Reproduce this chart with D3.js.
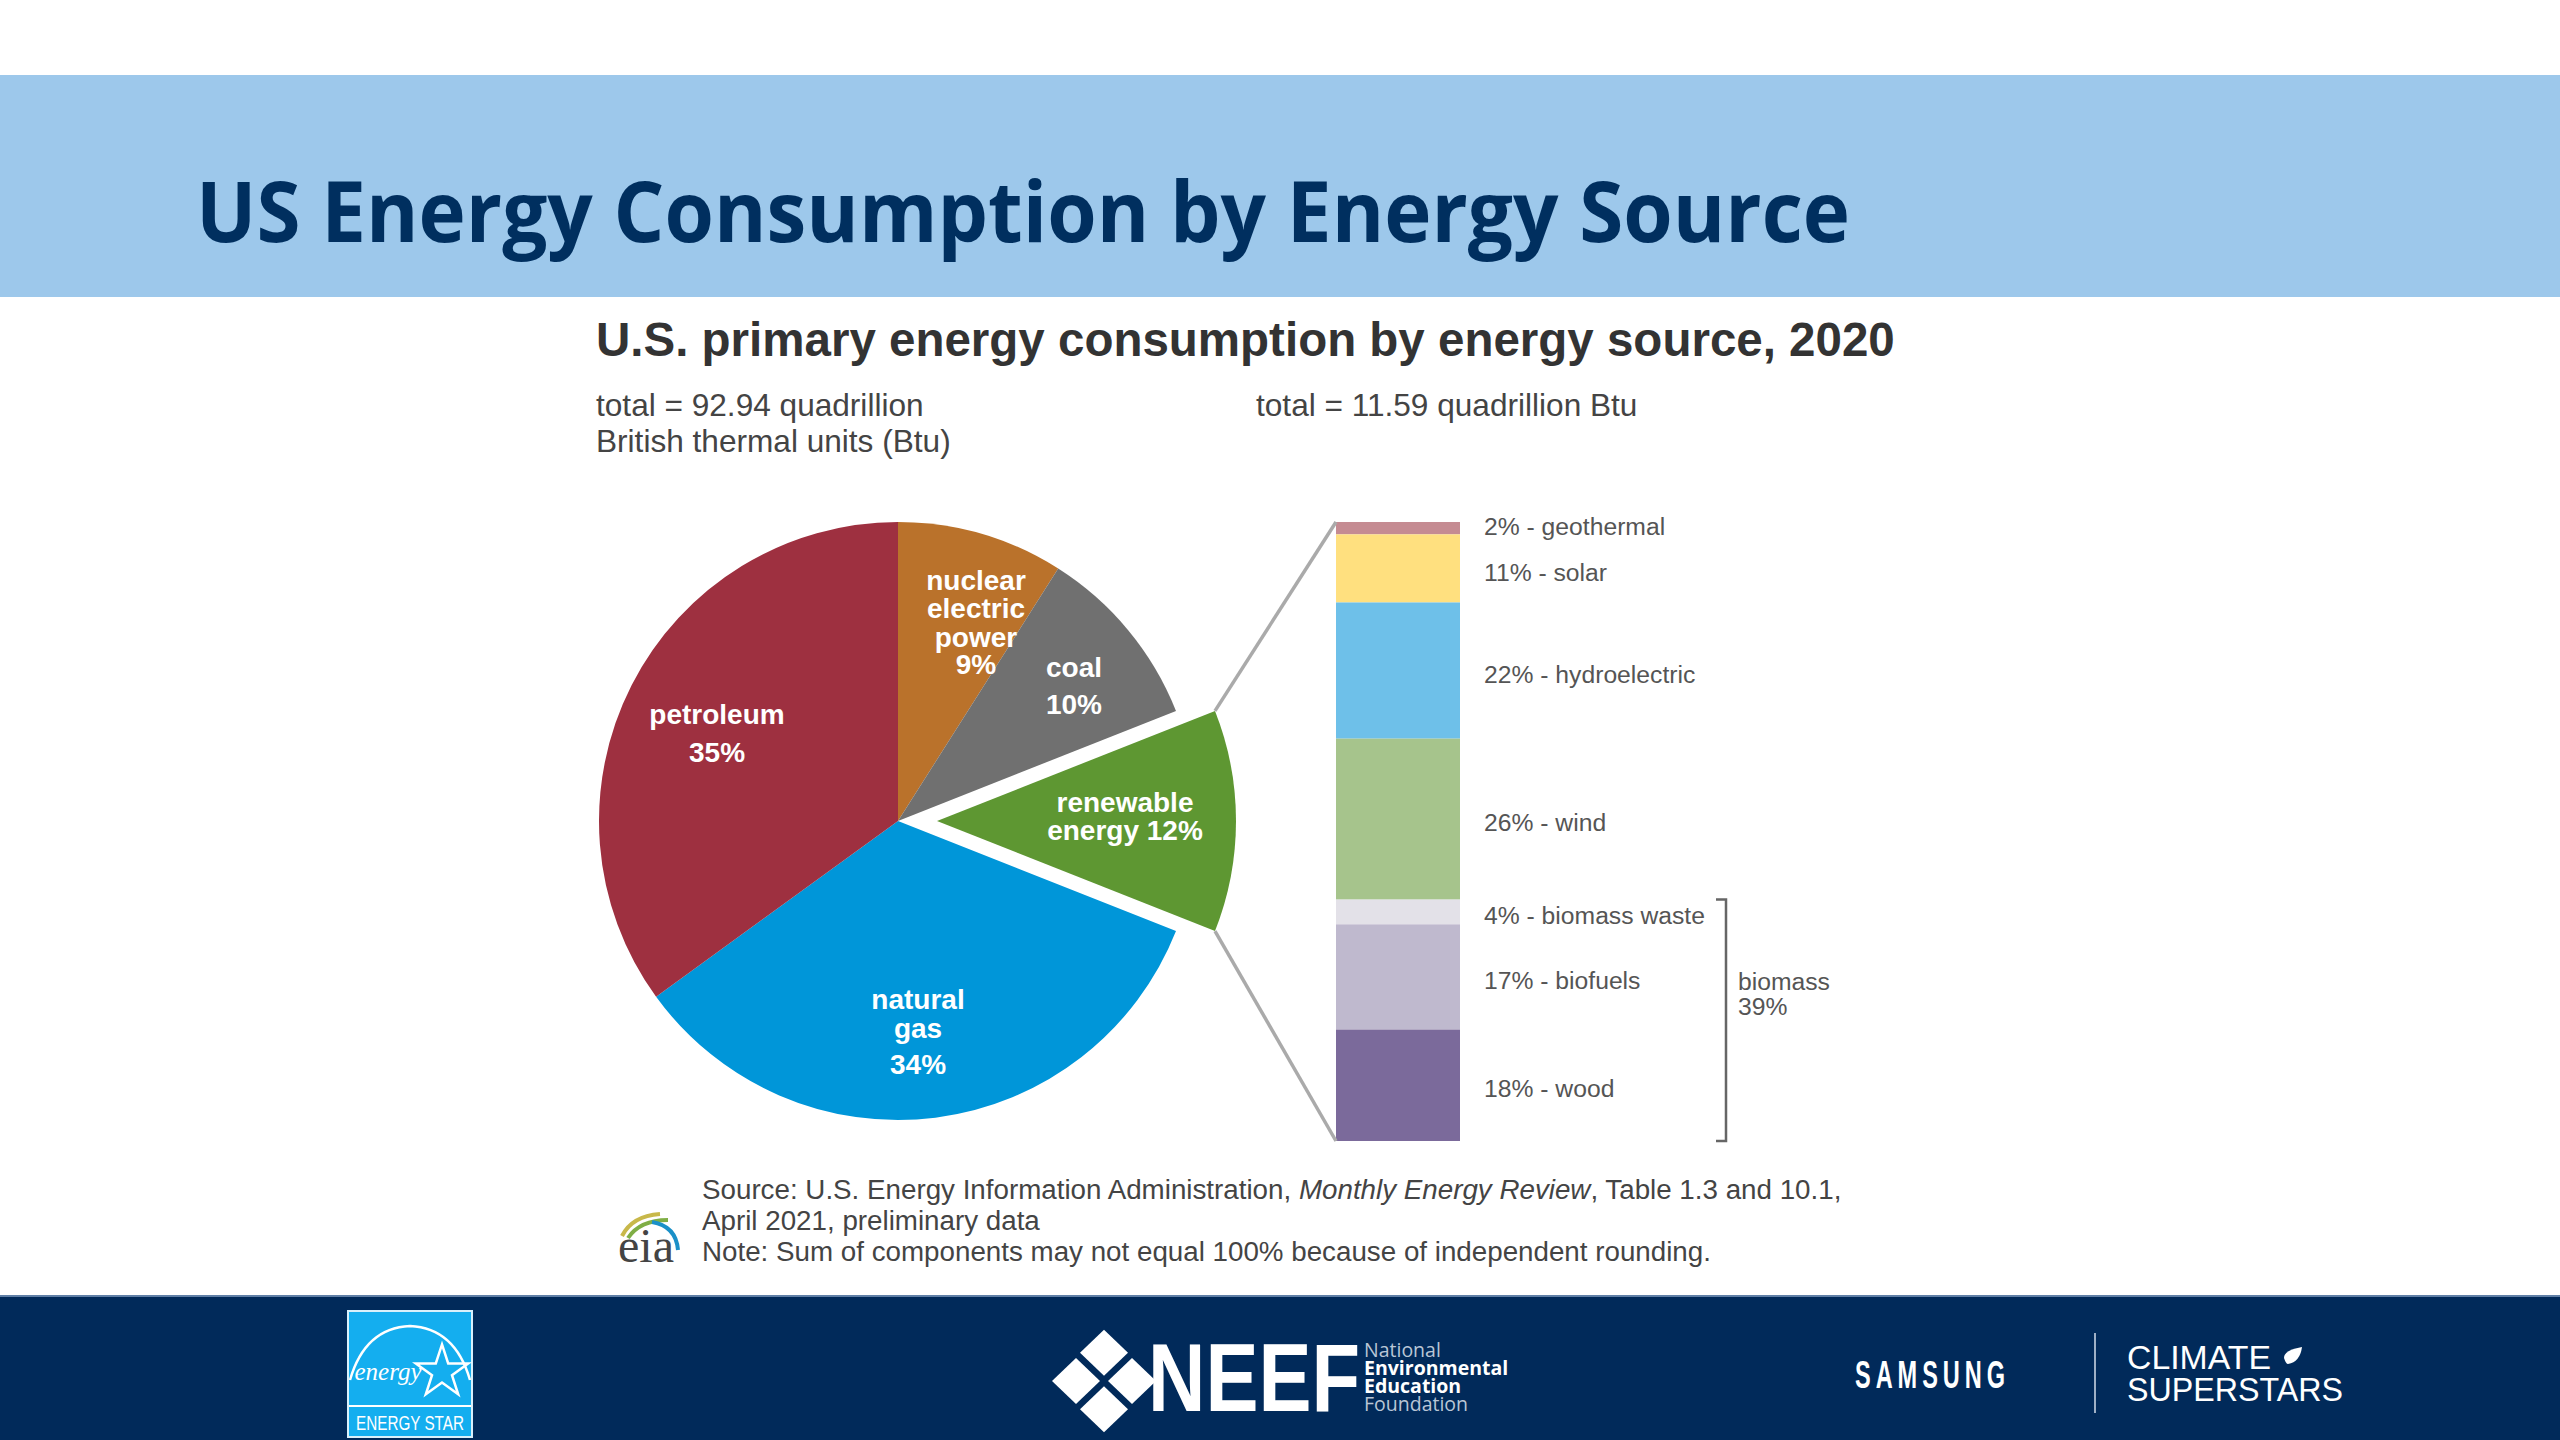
<!DOCTYPE html>
<html lang="en">
  <head>
    <meta charset="utf-8" />
    <title>US Energy Consumption by Energy Source</title>
    <script src="https://cdn.jsdelivr.net/npm/d3@7/dist/d3.min.js"></script>
    <style>
      html, body { margin: 0; padding: 0; background: #fff; }
      svg { display: block; }
      text { font-family: "Liberation Sans", Arial, sans-serif; }
    </style>
  </head>
  <body>
    <div id="container"></div>

    <script type="module">
      // pie, clockwise from 12 o'clock
      const sources = ["nuclear", "coal", "renewable", "natural gas", "petroleum"];
      const shares = [9, 10, 12, 34, 35];
      const sourceColors = ["#ba722b", "#707070", "#5e9732", "#0096d9", "#9e3040"];
      const sourceLabels = [
        ["nuclear", "electric", "power", "9%"],
        ["coal", "10%"],
        ["renewable", "energy 12%"],
        ["natural", "gas", "34%"],
        ["petroleum", "35%"],
      ];

      // renewable breakdown, top to bottom
      const renewables = ["geothermal", "solar", "hydroelectric", "wind", "biomass waste", "biofuels", "wood"];
      const renewableShares = [2, 11, 22, 26, 4, 17, 18];
      const renewableColors = ["#c58b92", "#ffe07f", "#6ec0e9", "#a6c48c", "#e3e1e8", "#bfb9ce", "#7b6a9b"];

      const width = 2560;
      const height = 1440;
      const svg = d3.select("#container").append("svg").attr("width", width).attr("height", height);

      // slide furniture
      svg.append("rect").attr("y", 75).attr("width", width).attr("height", 222).attr("fill", "#9dc8eb");
      svg.append("text").attr("x", 196).attr("y", 242)
        .attr("font-size", 85).attr("font-weight", 700).attr("fill", "#002f5f")
        .style("font-family", "'Open Sans'")
        .attr("textLength", 1654).attr("lengthAdjust", "spacingAndGlyphs")
        .text("US Energy Consumption by Energy Source");

      svg.append("text").attr("x", 596).attr("y", 356)
        .attr("font-size", 47.5).attr("font-weight", 700).attr("fill", "#333")
        .text("U.S. primary energy consumption by energy source, 2020");

      const subs = [
        ["total = 92.94 quadrillion", 596, 416],
        ["British thermal units (Btu)", 596, 452],
        ["total = 11.59 quadrillion Btu", 1256, 416],
      ];
      svg.selectAll(".sub").data(subs).enter().append("text").attr("class", "sub")
        .attr("x", (d) => d[1]).attr("y", (d) => d[2])
        .attr("font-size", 31.6).attr("fill", "#444").text((d) => d[0]);

      // pie
      const cx = 898;
      const cy = 821;
      const radius = 299;
      const explode = 39;
      const arcs = d3.pie().sort(null).value((d) => d)(shares);
      const arc = d3.arc().innerRadius(0).outerRadius(radius);
      const explodeIndex = sources.indexOf("renewable");

      const pie = svg.append("g").attr("transform", `translate(${cx},${cy})`);
      pie.selectAll("path").data(arcs).enter().append("path")
        .attr("d", arc)
        .attr("fill", (d, i) => sourceColors[i])
        .attr("transform", (d, i) => (i === explodeIndex ? `translate(${explode},0)` : null));

      // label anchors relative to pie centre: x, first baseline, then line steps
      const labelPos = [
        { x: 78, y: -231, dy: [0, 28, 29, 27] },
        { x: 176, y: -144, dy: [0, 37] },
        { x: 227, y: -9, dy: [0, 28] },
        { x: 20, y: 188, dy: [0, 29, 36] },
        { x: -181, y: -97, dy: [0, 38] },
      ];
      const labels = pie.selectAll(".pie-label").data(sourceLabels).enter().append("g").attr("class", "pie-label");
      labels.each(function (lines, i) {
        const p = labelPos[i];
        d3.select(this).selectAll("text").data(lines).enter().append("text")
          .attr("x", p.x)
          .attr("y", (d, j) => p.y + d3.sum(p.dy.slice(0, j + 1)))
          .attr("text-anchor", "middle").attr("font-size", 28).attr("font-weight", 700).attr("fill", "#fff")
          .text((d) => d);
      });

      // stacked bar of the renewable slice
      const barX = d3.scaleBand().domain(["renewable"]).range([1336, 1460]);
      const barY = d3.scaleLinear().domain([0, d3.sum(renewableShares)]).range([522, 1141]);
      const cumulative = d3.cumsum(renewableShares);
      const bar = svg.append("g");
      bar.selectAll("rect").data(renewableShares).enter().append("rect")
        .attr("x", barX("renewable"))
        .attr("width", barX.bandwidth())
        .attr("y", (d, i) => barY(cumulative[i] - d))
        .attr("height", (d) => barY(d) - barY(0))
        .attr("fill", (d, i) => renewableColors[i]);

      // the thin geothermal label sits a little above its segment centre
      const labelNudge = [7, 13, 12, 12, 12, 12, 12];
      bar.selectAll("text").data(renewableShares).enter().append("text")
        .attr("x", 1484)
        .attr("y", (d, i) => barY(cumulative[i] - d / 2) + labelNudge[i])
        .attr("font-size", 24.7).attr("fill", "#555")
        .text((d, i) => `${d}% - ${renewables[i]}`);

      // leader lines from the slice corners to the bar corners
      const slice = arcs[explodeIndex];
      const corner = (a) => [cx + explode + radius * Math.sin(a), cy - radius * Math.cos(a)];
      const leaders = [
        [corner(slice.startAngle), [1336, barY.range()[0]]],
        [corner(slice.endAngle), [1336, barY.range()[1]]],
      ];
      svg.selectAll(".leader").data(leaders).enter().append("path").attr("class", "leader")
        .attr("d", d3.line()).attr("fill", "none").attr("stroke", "#aaa").attr("stroke-width", 3.5);

      // biomass bracket
      const biomassStart = renewables.indexOf("biomass waste");
      const bTop = barY(cumulative[biomassStart - 1]);
      const bBottom = barY.range()[1];
      svg.append("path")
        .attr("d", `M1716,${bTop}H1726V${bBottom}H1716`)
        .attr("fill", "none").attr("stroke", "#666").attr("stroke-width", 2.5);
      svg.append("text").attr("x", 1738).attr("y", 990).attr("font-size", 24.7).attr("fill", "#555").text("biomass");
      svg.append("text").attr("x", 1738).attr("y", 1015).attr("font-size", 24.7).attr("fill", "#555").text("39%");

      // source note
      const note = svg.append("g").attr("font-size", 27.75).attr("fill", "#444");
      const line1 = note.append("text").attr("x", 702).attr("y", 1199);
      line1.append("tspan").text("Source: U.S. Energy Information Administration, ");
      line1.append("tspan").attr("font-style", "italic").text("Monthly Energy Review");
      line1.append("tspan").text(", Table 1.3 and 10.1,");
      note.append("text").attr("x", 702).attr("y", 1230).text("April 2021, preliminary data");
      note.append("text").attr("x", 702).attr("y", 1261).text("Note: Sum of components may not equal 100% because of independent rounding.");

      // eia logo
      const eia = svg.append("g");
      eia.append("text").attr("x", 646).attr("y", 1262).attr("text-anchor", "middle")
        .attr("font-size", 48).attr("fill", "#444").style("font-family", "'Liberation Serif'").text("eia");
      const swooshes = [
        ["M622,1236Q632,1216 660,1214", "#c8b84a"],
        ["M628,1238Q640,1220 668,1220", "#7fae45"],
        ["M652,1222Q676,1226 678,1250", "#1a90c8"],
      ];
      eia.selectAll("path").data(swooshes).enter().append("path")
        .attr("d", (d) => d[0]).attr("fill", "none").attr("stroke", (d) => d[1]).attr("stroke-width", 4);

      // footer band
      svg.append("rect").attr("y", 1296).attr("width", width).attr("height", 144).attr("fill", "#012a5a");
      svg.append("rect").attr("y", 1295).attr("width", width).attr("height", 2).attr("fill", "#5f7fa6");

      // energy star badge
      const star = svg.append("g");
      star.append("rect").attr("x", 348).attr("y", 1311).attr("width", 124).attr("height", 126)
        .attr("fill", "#14aeef").attr("stroke", "#d8f0fb").attr("stroke-width", 2);
      star.append("path").attr("d", "M350,1380Q365,1328 410,1326Q455,1328 470,1380")
        .attr("fill", "none").attr("stroke", "#fff").attr("stroke-width", 2.5);
      star.append("path").attr("d", d3.symbol(d3.symbolStar, 850)())
        .attr("transform", "translate(442,1372)")
        .attr("fill", "none").attr("stroke", "#fff").attr("stroke-width", 2.5);
      star.append("text").attr("x", 388).attr("y", 1380).attr("text-anchor", "middle")
        .attr("font-size", 25).attr("font-style", "italic").attr("fill", "#fff")
        .style("font-family", "'Liberation Serif'").text("energy");
      star.append("rect").attr("x", 349).attr("y", 1405).attr("width", 122).attr("height", 2).attr("fill", "#fff");
      star.append("text").attr("x", 410).attr("y", 1430).attr("text-anchor", "middle")
        .attr("font-size", 21).attr("fill", "#fff")
        .attr("textLength", 108).attr("lengthAdjust", "spacingAndGlyphs").text("ENERGY STAR");

      // NEEF mark
      const neef = svg.append("g").attr("fill", "#fff");
      const diamonds = [[0, -27], [-28, 0], [28, 0], [0, 27]];
      neef.selectAll("path").data(diamonds).enter().append("path")
        .attr("transform", (d) => `translate(${1104 + d[0]},${1381 + d[1] * 1.05})`)
        .attr("d", "M0,-23L24,0L0,23L-24,0Z");
      neef.append("text").attr("x", 1148).attr("y", 1411)
        .attr("font-size", 96).attr("font-weight", 700)
        .attr("textLength", 212).attr("lengthAdjust", "spacingAndGlyphs").text("NEEF");
      const neefWords = [["National", 1357, 400], ["Environmental", 1375, 700], ["Education", 1393, 700], ["Foundation", 1411, 400]];
      neef.selectAll(".word").data(neefWords).enter().append("text").attr("class", "word")
        .attr("x", 1364).attr("y", (d) => d[1]).attr("font-size", 19.5)
        .attr("font-weight", (d) => d[2])
        .attr("fill", (d) => (d[2] === 700 ? "#fff" : "#b9c6d6"))
        .style("font-family", "'Open Sans'").text((d) => d[0]);

      // Samsung / Climate Superstars
      const partner = svg.append("g").attr("fill", "#fff");
      partner.append("text").attr("x", 1855).attr("y", 1388).attr("font-size", 38).attr("font-weight", 700)
        .attr("letter-spacing", 8)
        .attr("textLength", 155).attr("lengthAdjust", "spacingAndGlyphs").text("SAMSUNG");
      partner.append("rect").attr("x", 2094).attr("y", 1333).attr("width", 2).attr("height", 80).attr("fill", "#9fb0c6");
      partner.append("text").attr("x", 2127).attr("y", 1369).attr("font-size", 34)
        .attr("textLength", 144).attr("lengthAdjust", "spacingAndGlyphs").text("CLIMATE");
      partner.append("path").attr("d", "M2284,1358Q2284,1350 2302,1347Q2300,1362 2288,1364Q2286,1364 2284,1358Z");
      partner.append("text").attr("x", 2127).attr("y", 1401).attr("font-size", 34)
        .attr("textLength", 216).attr("lengthAdjust", "spacingAndGlyphs").text("SUPERSTARS");
    </script>
  </body>
</html>
